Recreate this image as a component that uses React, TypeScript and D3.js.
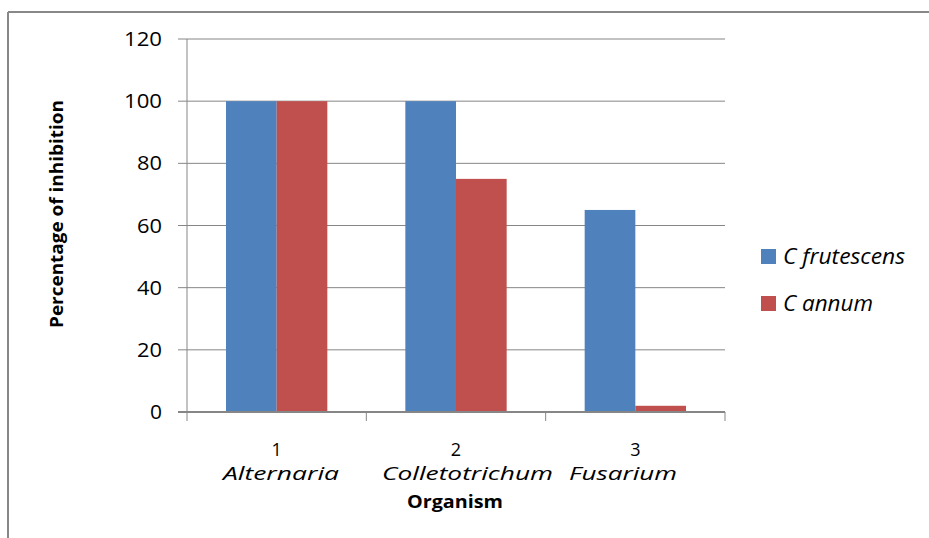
import React from "react";
import * as d3 from "d3";

const categories = ["1", "2", "3"];
const organisms = ["Alternaria", "Colletotrichum", "Fusarium"];
const seriesNames = ["C frutescens", "C annum"];
const frutescens = [100, 100, 65];
const annum = [100, 75, 2];
const yTicks = [0, 20, 40, 60, 80, 100, 120];
const colors = ["#4f81bd", "#c0504d"];

const organismStart = [223, 382, 569];
const organismWidth = [116, 171, 108];
const legendWidth = [122, 90];

export default function App() {
  const W = 929, H = 538;
  const left = 187, right = 725, top = 39, bottom = 412;
  const y = d3.scaleLinear().domain([0, 120]).range([bottom, top]);
  const x = d3.scaleBand().domain(categories).range([left, right]).paddingInner(0).paddingOuter(0);
  const inner = d3.scaleBand().domain(seriesNames).range([0, x.bandwidth()]).paddingOuter(0.77).paddingInner(0);
  const series = [frutescens, annum];
  const font = "'Open Sans', 'Liberation Sans', sans-serif";
  return (
    <div style={{ position: "absolute", left: 0, top: 0 }}>
      <svg width={W} height={H} style={{ display: "block" }}>
        <rect x={0} y={0} width={W} height={H} fill="#fff" />
        <line x1={8} y1={12} x2={W} y2={12} stroke="#888" strokeWidth={2} />
        <line x1={8} y1={12} x2={8} y2={H} stroke="#888" strokeWidth={2} />
        {yTicks.map((t) => (
          <g key={t}>
            {t > 0 && <line x1={left - 9} x2={right} y1={y(t)} y2={y(t)} stroke="#868686" strokeWidth={1} />}
            <text x={162} y={y(t) + 7} textAnchor="end" fontFamily={font} fontSize={19.5}
              textLength={t >= 100 ? 38 : t > 0 ? 25 : 12} lengthAdjust="spacingAndGlyphs" fill="#000">{t}</text>
          </g>
        ))}
        <line x1={left} x2={left} y1={top} y2={bottom} stroke="#868686" strokeWidth={1} />
        {series.map((vals, si) =>
          categories.map((c, i) => (
            <rect key={si + "-" + c}
              x={(x(c) as number) + (inner(seriesNames[si]) as number)}
              y={y(vals[i])}
              width={inner.bandwidth()}
              height={bottom - y(vals[i])}
              fill={colors[si]} />
          ))
        )}
        <line x1={left - 9} x2={right} y1={bottom} y2={bottom} stroke="#868686" strokeWidth={2} />
        {[...categories.map((c) => x(c) as number), right].map((px, i) => (
          <line key={i} x1={px} x2={px} y1={bottom} y2={bottom + 9} stroke="#868686" strokeWidth={1} />
        ))}
        {categories.map((c, i) => {
          const cx = (x(c) as number) + x.bandwidth() / 2;
          return (
            <g key={c}>
              <text x={cx} y={456} textAnchor="middle" fontFamily={font} fontSize={18}>{c}</text>
              <text x={organismStart[i]} y={480} fontFamily={font} fontSize={18.5} fontStyle="italic"
                textLength={organismWidth[i]} lengthAdjust="spacingAndGlyphs">{organisms[i]}</text>
            </g>
          );
        })}
        <text x={407} y={508} fontFamily={font} fontSize={18} fontWeight="bold"
          textLength={96} lengthAdjust="spacingAndGlyphs">Organism</text>
        <text transform={`translate(63,328) rotate(-90)`} fontFamily={font} fontSize={18} fontWeight="bold"
          textLength={228} lengthAdjust="spacingAndGlyphs">Percentage of inhibition</text>
        {seriesNames.map((s, i) => (
          <g key={s} transform={`translate(761,${249 + i * 47})`}>
            <rect x={0} y={0} width={15} height={15} fill={colors[i]} />
            <text x={22} y={15} fontFamily={font} fontSize={21} fontStyle="italic"
              textLength={legendWidth[i]} lengthAdjust="spacingAndGlyphs">{s}</text>
          </g>
        ))}
      </svg>
    </div>
  );
}
